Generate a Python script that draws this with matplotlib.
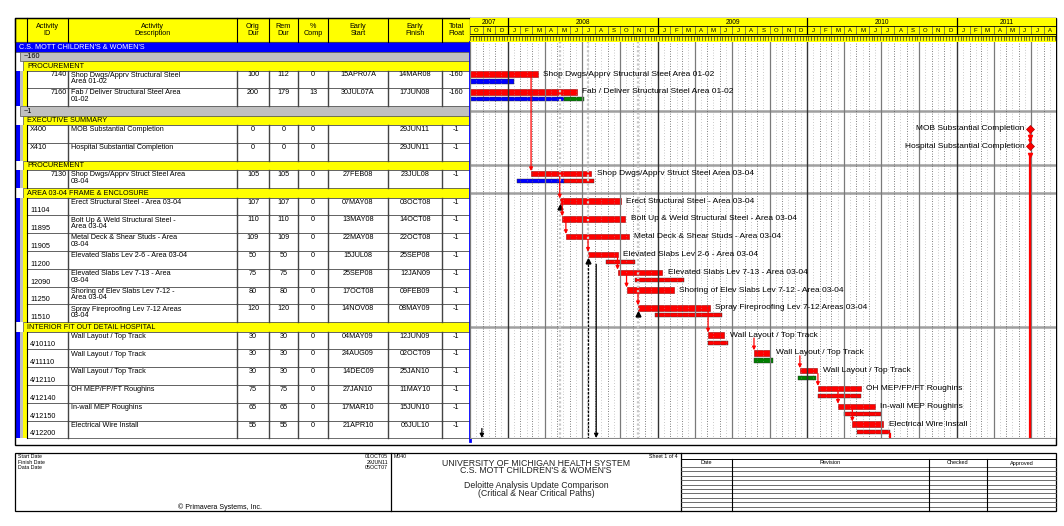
import textwrap
from datetime import datetime
import matplotlib
matplotlib.use("Agg")
import matplotlib.pyplot as plt
import matplotlib.dates as mdates
from matplotlib.patches import Rectangle
import pandas as pd

plt.rcParams['font.family'] = ['Liberation Sans', 'DejaVu Sans']

# ---------------- data ----------------
act_id = ["7140", "7160", "X400", "X410", "7130",
          "11104", "11895", "11905", "11200", "12090", "11250", "11510",
          "4/10110", "4/11110", "4/12110", "4/12140", "4/12150", "4/12200"]
act_desc = ["Shop Dwgs/Apprv Structural Steel Area 01-02",
            "Fab / Deliver Structural Steel Area 01-02",
            "MOB Substantial Completion",
            "Hospital Substantial Completion",
            "Shop Dwgs/Apprv Struct Steel Area 03-04",
            "Erect Structural Steel - Area 03-04",
            "Bolt Up & Weld Structural Steel - Area 03-04",
            "Metal Deck & Shear Studs - Area 03-04",
            "Elevated Slabs Lev 2-6 - Area 03-04",
            "Elevated Slabs Lev 7-13 - Area 03-04",
            "Shoring of Elev Slabs Lev 7-12 - Area 03-04",
            "Spray Fireproofing Lev 7-12 Areas 03-04",
            "Wall Layout / Top Track",
            "Wall Layout / Top Track",
            "Wall Layout / Top Track",
            "OH MEP/FP/FT Roughins",
            "In-wall MEP Roughins",
            "Electrical Wire Install"]
act_orig = [100, 200, 0, 0, 105, 107, 110, 109, 50, 75, 80, 120, 30, 30, 30, 75, 65, 55]
act_rem = [112, 179, 0, 0, 105, 107, 110, 109, 50, 75, 80, 120, 30, 30, 30, 75, 65, 55]
act_comp = [0, 13, 0, 0, 0, 0, 0, 0, 0, 0, 0, 0, 0, 0, 0, 0, 0, 0]
act_es = ["15APR07A", "30JUL07A", "", "", "27FEB08", "07MAY08", "13MAY08", "22MAY08",
          "15JUL08", "25SEP08", "17OCT08", "14NOV08", "04MAY09", "24AUG09", "14DEC09",
          "27JAN10", "17MAR10", "21APR10"]
act_ef = ["14MAR08", "17JUN08", "29JUN11", "29JUN11", "23JUL08", "03OCT08", "14OCT08",
          "22OCT08", "25SEP08", "12JAN09", "09FEB09", "08MAY09", "12JUN09", "02OCT09",
          "25JAN10", "11MAY10", "15JUN10", "06JUL10"]
act_tf = [-160, -160, -1, -1, -1, -1, -1, -1, -1, -1, -1, -1, -1, -1, -1, -1, -1, -1]

group_text = ["C.S. MOTT CHILDREN'S & WOMEN'S", "~160", "PROCUREMENT", "~1",
              "EXECUTIVE SUMMARY", "PROCUREMENT", "AREA 03-04 FRAME & ENCLOSURE",
              "INTERIOR FIT OUT DETAIL HOSPITAL"]
group_level = ["project", "wbs", "phase", "wbs", "phase", "phase", "phase", "phase"]
group_first = [0, 0, 0, 2, 2, 4, 5, 12]

# comparison (target) bars
base_act = ["7140", "7160", "7160", "7130", "7130", "11200", "12090", "11510",
            "4/10110", "4/11110", "4/12110", "4/12140", "4/12150", "4/12200"]
base_start = ["2007-04-15", "2007-07-30", "2008-05-18", "2008-01-23", "2008-05-18",
              "2008-08-28", "2008-11-07", "2008-12-25", "2009-05-05", "2009-08-23",
              "2009-12-10", "2010-01-28", "2010-04-01", "2010-05-02"]
base_end = ["2008-01-16", "2008-05-18", "2008-07-06", "2008-05-18", "2008-07-30",
            "2008-11-07", "2009-03-06", "2009-06-08", "2009-06-21", "2009-10-10",
            "2010-01-23", "2010-05-12", "2010-06-29", "2010-07-21"]
base_kind = ["actual", "actual", "remaining", "actual", "critical",
             "critical", "critical", "critical", "critical", "remaining",
             "remaining", "critical", "critical", "critical"]

# relationships on this sheet
link_from = ["7140", "X400", "7130", "11104", "11895", "11905", "11200", "12090",
             "11250", "11510", "4/10110", "4/11110", "4/12110", "4/12140", "4/12150"]
link_to = ["7130", "X410", "11104", "11895", "11905", "11200", "12090", "11250",
           "11510", "4/10110", "4/11110", "4/12110", "4/12140", "4/12150", "4/12200"]

# relationships running off the sheet
off_act = ["X410", "4/12200", "11200", "11200"]
off_date = ["2011-06-29", "2010-07-21", "2008-08-04", "2008-07-16"]
off_kind = ["critical", "critical", "driving", "other"]
in_act = ["11104", "11200", "11510"]

t_start, t_end = datetime(2007, 10, 1), datetime(2011, 8, 31)

# ---------------- layout ----------------
W, H = 1064, 526
GX0, GX1, GY0, GY1, HY0 = 470, 1056, 42, 438.5, 18
BAND_H, ACT_H = 9.5, 17.8
col_x = [27, 68, 237, 269, 298, 328, 388, 442, 470]
col_head = ["Activity\nID", "Activity\nDescription", "Orig\nDur", "Rem\nDur", "%\nComp",
            "Early\nStart", "Early\nFinish", "Total\nFloat"]
band_color = {"project": "#0000ff", "wbs": "#c0c0c0", "phase": "#ffff00"}
band_x = {"project": 15, "wbs": 20, "phase": 23}
bar_color = {"actual": "#0000ff", "remaining": "#008000", "critical": "#ff0000"}
FS = 5.2


def pdate(s):
    return datetime.strptime(s.rstrip("A"), "%d%b%y")


fig = plt.figure(figsize=(W / 100, H / 100), dpi=100)
ax = fig.add_axes([0, 0, 1, 1])
ax.set_xlim(0, W)
ax.set_ylim(H, 0)
ax.axis("off")

gx = fig.add_axes([GX0 / W, 1 - GY1 / H, (GX1 - GX0) / W, (GY1 - GY0) / H])
hx = fig.add_axes([GX0 / W, 1 - GY0 / H, (GX1 - GX0) / W, (GY0 - HY0) / H], sharex=gx)
x0, x1 = mdates.date2num(t_start), mdates.date2num(t_end)
gx.set_xlim(x0, x1)
gx.set_ylim(GY1, GY0)
hx.set_ylim(GY0, HY0)
for a in (gx, hx):
    a.set_xticks([])
    a.set_yticks([])
    for s in a.spines.values():
        s.set_visible(False)
hx.set_facecolor("#ffff00")

# build rows
rows = []
y = GY0
gi = 0
for i in range(len(act_id)):
    while gi < len(group_text) and group_first[gi] == i:
        rows.append(("band", gi, y, BAND_H))
        y += BAND_H
        gi += 1
    rows.append(("act", i, y, ACT_H))
    y += ACT_H
top = {act_id[i]: t for k, i, t, h in rows if k == "act"}

# ---------------- table header ----------------
ax.add_patch(Rectangle((15, HY0), GX0 - 15, GY0 - HY0, fc="#ffff00", ec="black", lw=0.8))
edges = [15] + col_x
for j, lab in enumerate(col_head):
    ax.text((edges[j + 1] + edges[j + 2]) / 2, (HY0 + GY0) / 2, lab, ha="center",
            va="center", fontsize=FS, linespacing=1.0)
for xx in edges:
    ax.plot([xx, xx], [HY0, GY0], color="black", lw=0.8)

# ---------------- table body ----------------
prev = None
for kind, i, t, h in rows:
    if kind == "band":
        lvl = group_level[i]
        bx = band_x[lvl]
        ax.add_patch(Rectangle((bx, t), GX0 - bx, h, fc=band_color[lvl], ec="#555555", lw=0.5))
        ax.text(bx + 4, t + h / 2 + 0.3, group_text[i], fontsize=FS, va="center",
                color="white" if lvl == "project" else "black")
        if prev == "act":
            gx.axhline(t + h / 2, color="#a0a0a0", lw=1.8)
        prev = kind
        continue
    prev = kind
    # outline stripes
    ax.add_patch(Rectangle((15, t), 5, h, fc="#0000ff", lw=0))
    ax.add_patch(Rectangle((20, t), 3, h, fc="#c0c0c0", lw=0))
    ax.add_patch(Rectangle((23, t), 3.5, h, fc="#ffff00", lw=0))
    ax.plot([26.5, 26.5], [t, t + h], color="black", lw=0.8)
    ax.add_patch(Rectangle((col_x[0], t), GX0 - col_x[0], h, fc="white", ec="#555555", lw=0.6))
    for xx in col_x[1:-1]:
        ax.plot([xx, xx], [t, t + h], color="#444444", lw=1.0)
    aid = act_id[i]
    if aid.startswith("X"):
        ax.text(col_x[0] + 3, t + 4.5, aid, fontsize=FS, va="center")
    elif "/" in aid or len(aid) == 5:
        ax.text(col_x[0] + 3, t + h - 4.5, aid, fontsize=FS, va="center")
    else:
        ax.text(col_x[1] - 1.5, t + 4.5, aid, fontsize=FS, va="center", ha="right")
    ax.text(col_x[1] + 3, t + 1.2, textwrap.fill(act_desc[i], 35), fontsize=FS, va="top",
            linespacing=0.95)
    vals = [act_orig[i], act_rem[i], act_comp[i], act_es[i], act_ef[i], act_tf[i]]
    for j, v in enumerate(vals):
        ax.text((col_x[j + 2] + col_x[j + 3]) / 2, t + 4.5, str(v), fontsize=FS,
                ha="center", va="center")

# frames
ax.add_patch(Rectangle((15, HY0), GX1 - 15, 445 - HY0, fc="none", ec="black", lw=1.0))
ax.plot([GX0, GX0], [GY0, GY1 + 2], color="#0000ff", lw=2.0)

# ---------------- timeline header ----------------
months = pd.date_range(t_start, t_end, freq="MS")
letters = "JFMAMJJASOND"
for m in months:
    mn = mdates.date2num(m)
    me = mdates.date2num(m + pd.offsets.MonthBegin(1))
    if m.month == 1:
        hx.plot([mn, mn], [HY0, 34], color="black", lw=0.9)
    else:
        hx.plot([mn, mn], [26, 34], color="#555555", lw=0.5)
    hx.text((mn + min(me, x1)) / 2, 30.2, letters[m.month - 1], fontsize=4.3,
            ha="center", va="center")
for yr in range(t_start.year, t_end.year + 1):
    a = max(x0, mdates.date2num(datetime(yr, 1, 1)))
    b = min(x1, mdates.date2num(datetime(yr + 1, 1, 1)))
    hx.text((a + b) / 2, 22, str(yr), fontsize=4.8, ha="center", va="center")
for w in pd.date_range(t_start, t_end, freq="W-MON"):
    wn = mdates.date2num(w)
    hx.plot([wn, wn], [36, 40], color="#333333", lw=0.5)
for yy in (26, 34, 35.5, 41.5):
    hx.axhline(yy, color="black", lw=0.6)

# ---------------- gantt grid ----------------
for m in months:
    mn = mdates.date2num(m)
    if m.month == 1:
        gx.axvline(mn, color="#333333", lw=1.0)
    elif m.month in (4, 7, 10):
        gx.axvline(mn, color="#7a7a7a", lw=0.9)
    else:
        gx.axvline(mn, color="#555555", lw=0.6, ls=(0, (1, 2)))
    mid = mdates.date2num(m + pd.Timedelta(days=15))
    if mid < x1:
        gx.axvline(mid, color="#9a9a9a", lw=0.5, ls=(0, (1, 3)))

# light dotted lines from other sheets
for aid in in_act:
    xs = mdates.date2num(pdate(act_es[act_id.index(aid)]))
    gx.axvline(xs, color="#c8c8c8", lw=1.6, ls=(0, (1, 1)))

# ---------------- bars ----------------
for i, aid in enumerate(act_id):
    t = top[aid]
    f = mdates.date2num(pdate(act_ef[i]))
    yc = t + 0.2 * ACT_H
    if act_orig[i] == 0:
        gx.plot(f, yc, marker="D", ms=4.5, color="#ff0000", mec="#b00000", mew=0.5)
        gx.plot(f, t + 0.68 * ACT_H, marker="v", ms=3, color="#ff0000")
        gx.annotate(act_desc[i], xy=(f, yc), xytext=(-4, 0), textcoords="offset points",
                    ha="right", va="center", fontsize=6)
        continue
    s = mdates.date2num(pdate(act_es[i]))
    gx.barh(yc, f - s, left=s, height=0.3 * ACT_H, color="#ff0000", edgecolor="#a00000",
            lw=0.4)
    gx.annotate(act_desc[i], xy=(f, yc), xytext=(4, 0), textcoords="offset points",
                ha="left", va="center", fontsize=6)

for aid, bs, be, bk in zip(base_act, base_start, base_end, base_kind):
    s = mdates.date2num(pd.Timestamp(bs))
    e = mdates.date2num(pd.Timestamp(be))
    gx.barh(top[aid] + 0.62 * ACT_H, e - s, left=s, height=0.24 * ACT_H,
            color=bar_color[bk], edgecolor="#333333", lw=0.3)

# ---------------- relationships ----------------
for a, b in zip(link_from, link_to):
    xb = act_es[act_id.index(b)] or act_ef[act_id.index(b)]
    xn = mdates.date2num(pdate(xb))
    gx.annotate("", xy=(xn, top[b] + 0.05 * ACT_H), xytext=(xn, top[a] + 0.36 * ACT_H),
                arrowprops=dict(arrowstyle="-|>", color="#ff0000", lw=0.9,
                                mutation_scale=5, shrinkA=0, shrinkB=0))

for aid, d, k in zip(off_act, off_date, off_kind):
    xn = mdates.date2num(pd.Timestamp(d))
    y_from = top[aid] + 0.75 * ACT_H
    if k == "critical":
        gx.plot([xn, xn], [y_from, GY1], color="#ff0000", lw=1.6)
    elif k == "driving":
        gx.annotate("", xy=(xn, GY1 - 0.5), xytext=(xn, y_from),
                    arrowprops=dict(arrowstyle="-|>", color="black", lw=0.9,
                                    mutation_scale=6, shrinkA=0, shrinkB=0))
    else:
        gx.plot([xn, xn], [y_from, GY1], color="black", lw=0.9, ls=(0, (2, 1)))

for aid in in_act:
    xs = mdates.date2num(pdate(act_es[act_id.index(aid)]))
    gx.plot(xs, top[aid] + 0.55 * ACT_H, marker="^", ms=3.5, color="black")
gx.annotate("", xy=(mdates.date2num(datetime(2007, 10, 30)), GY1 - 0.5),
            xytext=(mdates.date2num(datetime(2007, 10, 30)), GY1 - 10),
            arrowprops=dict(arrowstyle="-|>", color="black", lw=0.9, mutation_scale=6,
                            shrinkA=0, shrinkB=0))
gx.axhline(GY1 - 0.3, color="#888888", lw=0.8)

# ---------------- footer ----------------
FY0, FY1, FXA, FXB = 453, 511, 391, 681
ax.add_patch(Rectangle((15, FY0), GX1 - 15, FY1 - FY0, fc="none", ec="black", lw=0.9))
ax.plot([FXA, FXA], [FY0, FY1], color="black", lw=0.9)
ax.plot([FXB, FXB], [FY0, FY1], color="black", lw=0.9)
info_lab = ["Start Date", "Finish Date", "Data Date"]
info_val = ["01OCT05", "29JUN11", "05OCT07"]
for k, (lab, val) in enumerate(zip(info_lab, info_val)):
    ax.text(18, 456.5 + 5.5 * k, lab, fontsize=3.8, va="center")
    ax.text(388, 456.5 + 5.5 * k, val, fontsize=3.8, va="center", ha="right")
ax.text(220, 507, "\u00a9 Primavera Systems, Inc.", fontsize=5, ha="center", va="center")
ax.text(FXA + 3, 456.5, "M040", fontsize=3.8, va="center")
ax.text(FXB - 3, 456.5, "Sheet 1 of 4", fontsize=3.8, va="center", ha="right")
title_lines = ["UNIVERSITY OF MICHIGAN HEALTH SYSTEM", "C.S. MOTT CHILDREN'S & WOMEN'S", "",
               "Deloitte Analysis Update Comparison", "(Critical & Near Critical Paths)"]
for k, line in enumerate(title_lines):
    ax.text((FXA + FXB) / 2, 463 + 7.5 * k, line, fontsize=6.3, ha="center", va="center",
            color="#222222")
rev_cols = [732, 929, 987]
rev_head = ["Date", "Revision", "Checked", "Approved"]
rev_edges = [FXB] + rev_cols + [GX1]
ax.plot([FXB, GX1], [459, 459], color="black", lw=0.7)
for k, lab in enumerate(rev_head):
    ax.text((rev_edges[k] + rev_edges[k + 1]) / 2, 463, lab, fontsize=4, ha="center",
            va="center")
yy = 467
while yy < FY1 - 1:
    ax.plot([FXB, GX1], [yy, yy], color="#555555", lw=0.6)
    yy += 4.4
for xx in rev_cols:
    ax.plot([xx, xx], [459, FY1], color="black", lw=0.8)

fig.savefig("out.png", dpi=100)
